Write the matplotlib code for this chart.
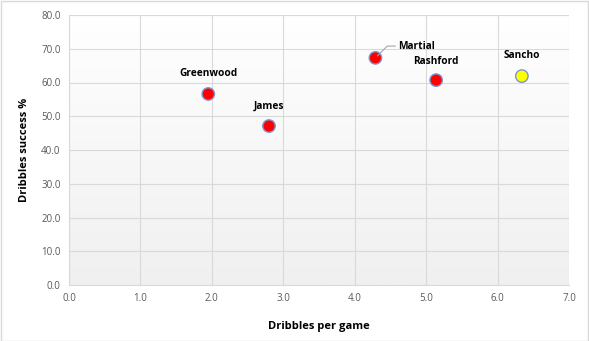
import matplotlib
matplotlib.use("Agg")
import matplotlib.pyplot as plt
import numpy as np
from matplotlib.patches import Rectangle

players = ["Greenwood", "James", "Martial", "Rashford", "Sancho"]
dribbles_per_game = [1.95, 2.80, 4.29, 5.14, 6.34]
success_pct = [56.6, 47.1, 67.3, 60.7, 61.9]
colors = ["#ff0000", "#ff0000", "#ff0000", "#ff0000", "#ffff00"]
x_ticks = [0, 1, 2, 3, 4, 5, 6, 7]
y_ticks = [0, 10, 20, 30, 40, 50, 60, 70, 80]

plt.rcParams['font.family'] = ['Open Sans', 'DejaVu Sans']

fig = plt.figure(figsize=(5.89, 3.41), dpi=100)
ax = fig.add_axes([69/589, 56/341, 500/589, 270/341])

# gradient background
grad = np.linspace(0, 1, 256).reshape(-1, 1)
ax.imshow(grad, extent=[0, 7, 0, 80], aspect='auto',
          cmap=matplotlib.colors.LinearSegmentedColormap.from_list('g', ['#f0f0f0', '#ffffff']),
          origin='lower', zorder=0)

ax.set_xlim(0, 7)
ax.set_ylim(0, 80)
ax.set_xticks(x_ticks)
ax.set_yticks(y_ticks)
ax.set_xticklabels([f"{v:.1f}" for v in x_ticks])
ax.set_yticklabels([f"{v:.1f}" for v in y_ticks])
ax.grid(True, color='#d9d9d9', linewidth=0.8, zorder=1)
ax.set_axisbelow(True)
for s in ['top', 'right']:
    ax.spines[s].set_visible(False)
for s in ['left', 'bottom']:
    ax.spines[s].set_color('#d9d9d9')
ax.tick_params(length=0, labelsize=7, labelcolor='#595959', pad=6)

ax.scatter(dribbles_per_game, success_pct, s=80, c=colors, edgecolors='#7a96d4',
           linewidths=1.0, zorder=3)

offsets = {"Greenwood": (0, 6.0), "James": (0, 6.0), "Rashford": (0, 5.4), "Sancho": (0, 6.0)}
for name, x, y in zip(players, dribbles_per_game, success_pct):
    if name == "Martial":
        ax.annotate(name, xy=(x, y), xytext=(x + 0.32, y + 3.5), fontsize=7.3, fontweight='bold',
                    ha='left', va='center', zorder=4,
                    arrowprops=dict(arrowstyle='-', color='#a6a6a6', lw=0.8, shrinkA=0, shrinkB=2,
                                    connectionstyle='angle,angleA=0,angleB=45,rad=0', relpos=(0, 0.5)))
    else:
        dx, dy = offsets[name]
        ax.text(x + dx, y + dy, name, fontsize=7.3, fontweight='bold', ha='center', va='center', zorder=4)

ax.set_xlabel("Dribbles per game", fontsize=8, fontweight='bold', labelpad=12)
ax.set_ylabel("Dribbles success %", fontsize=8, fontweight='bold', labelpad=8)

fig.patches.append(Rectangle((0.5/589, 0.5/341), 1 - 1.5/589, 1 - 1.5/341, transform=fig.transFigure,
                             fill=False, edgecolor='#d9d9d9', linewidth=1))

fig.savefig("out.png", dpi=100)
